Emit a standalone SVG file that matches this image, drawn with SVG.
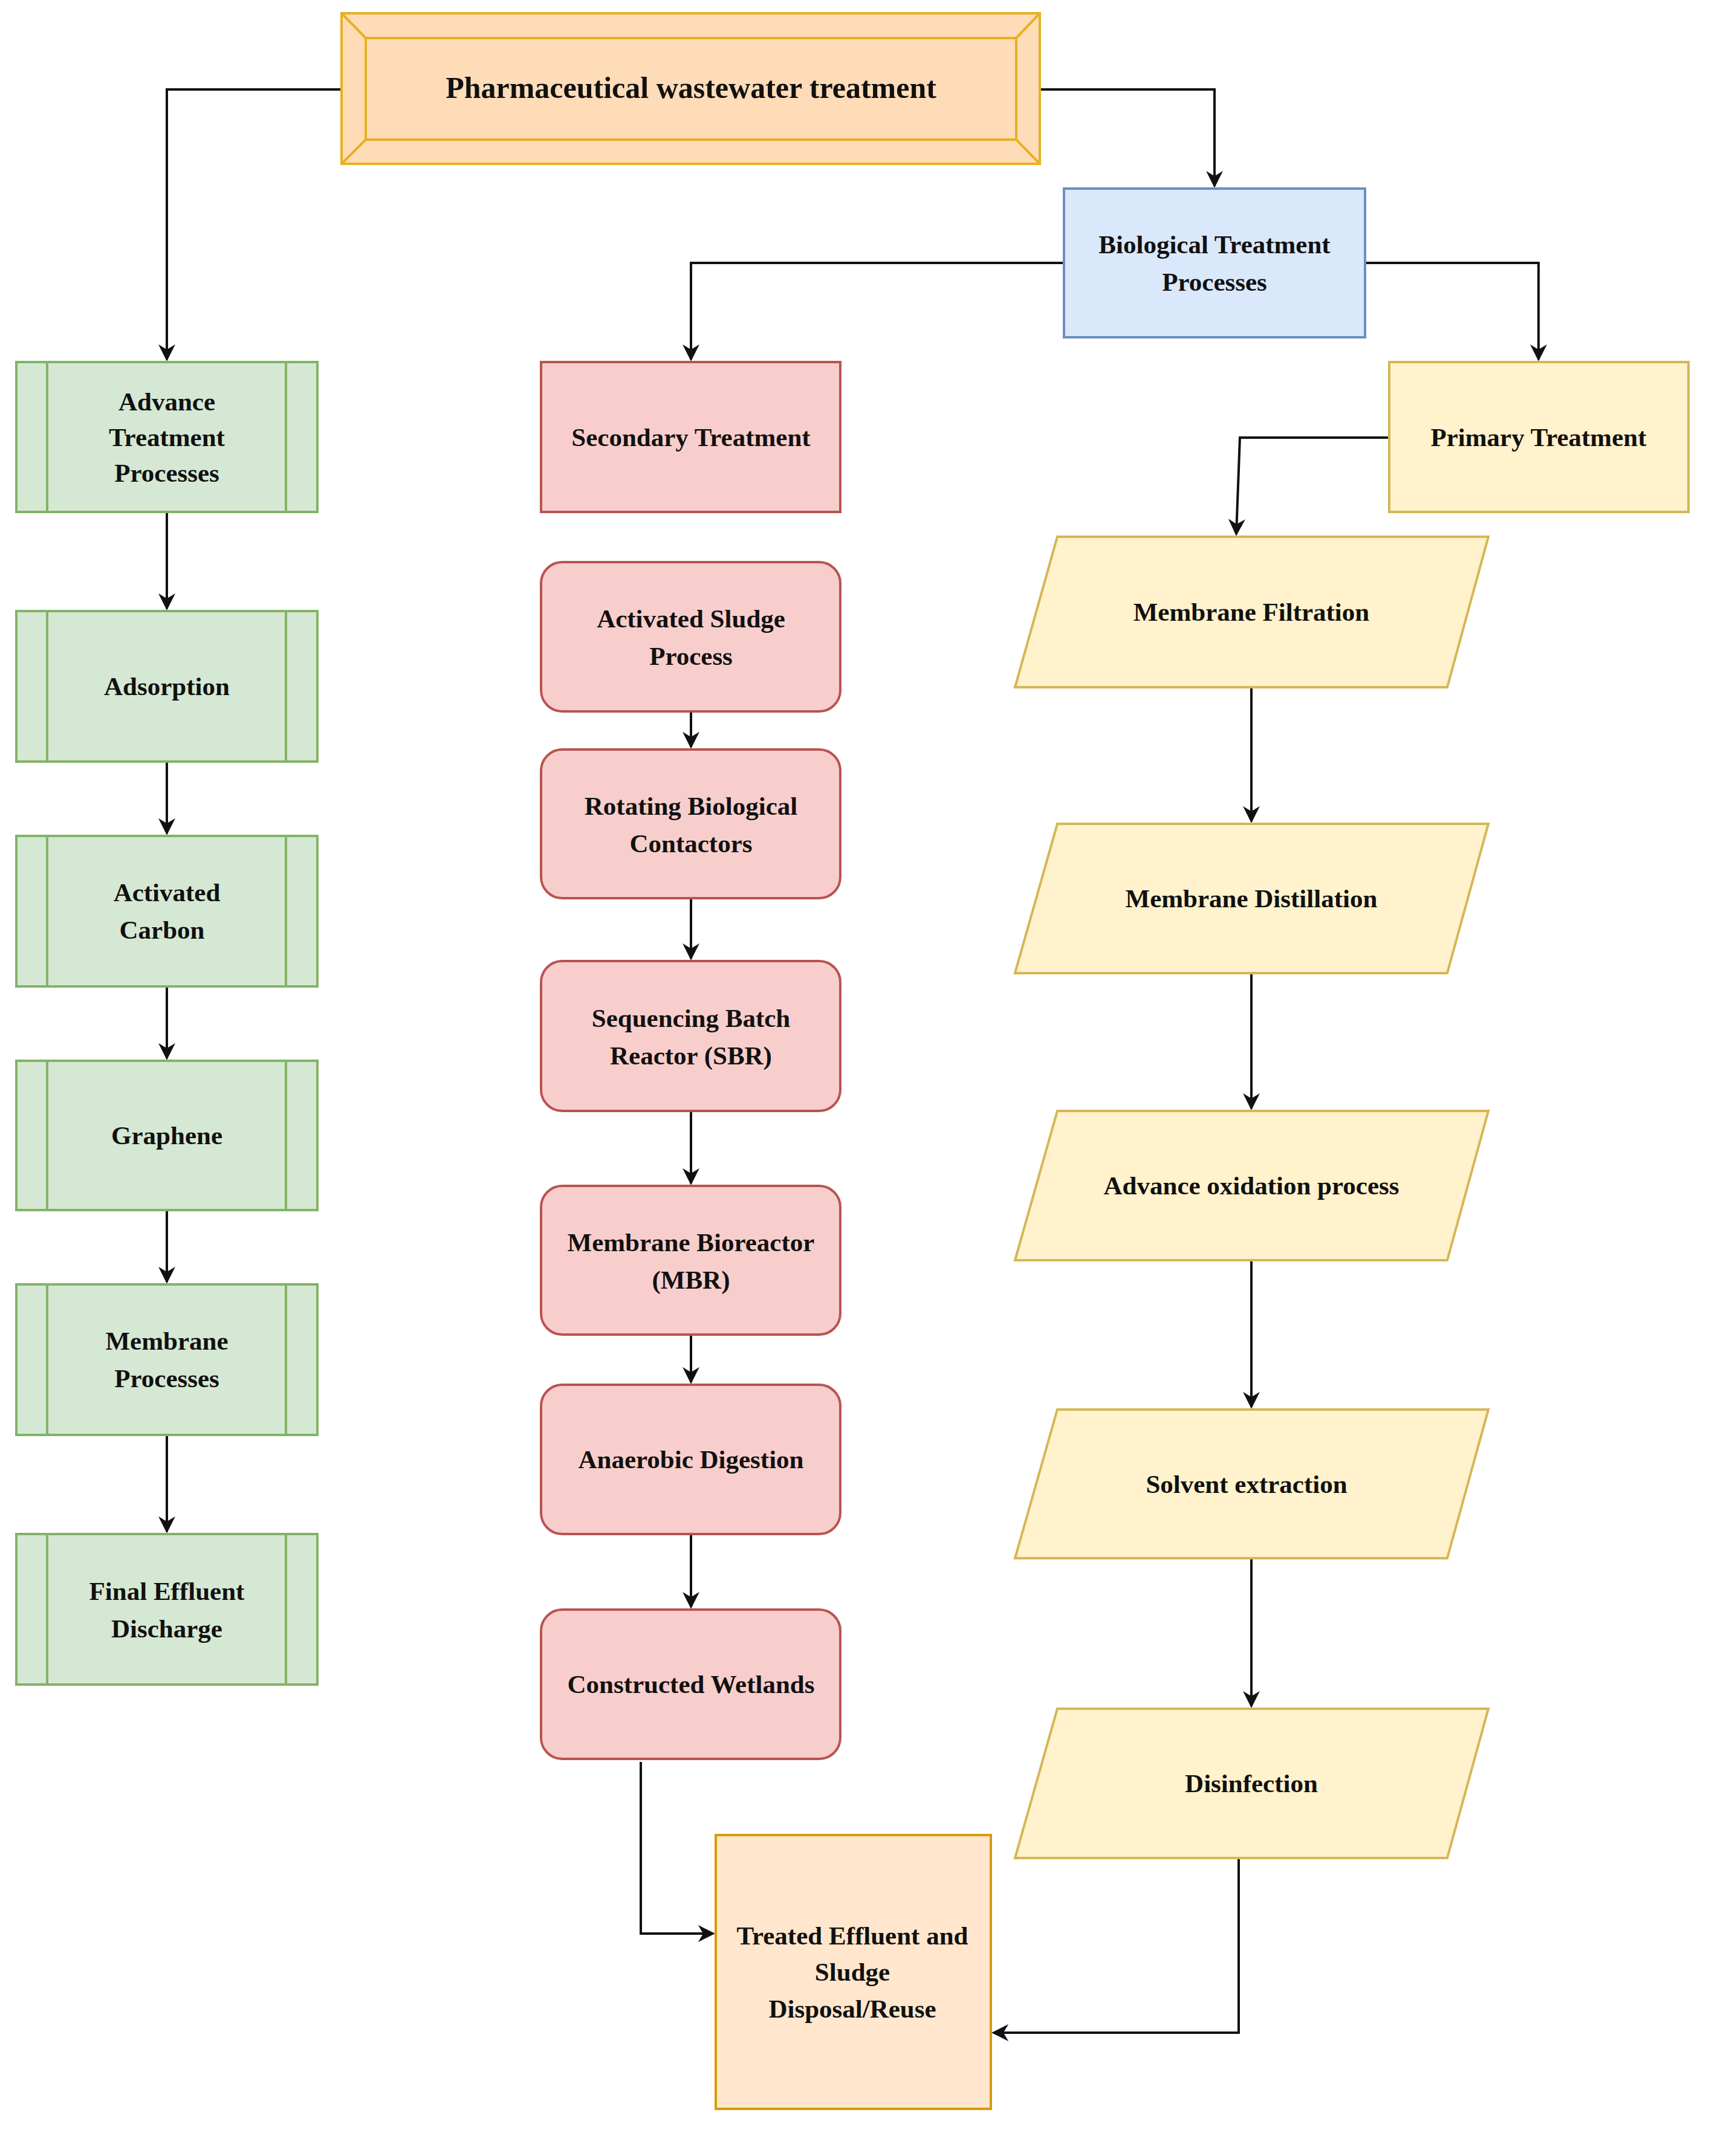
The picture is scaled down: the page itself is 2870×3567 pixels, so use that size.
<svg xmlns="http://www.w3.org/2000/svg" width="2870" height="3567" viewBox="0 0 2870 3567">
<defs>
<style>
text{font-family:"Liberation Serif","Times New Roman",serif;font-weight:bold;font-size:43px;fill:#111;text-anchor:middle;dominant-baseline:central}
.g{fill:#d5e8d4;stroke:#82b366;stroke-width:4}
.r{fill:#f8cecc;stroke:#b85450;stroke-width:4}
.y{fill:#fff2cc;stroke:#d6b656;stroke-width:4}
.b{fill:#dae8fc;stroke:#6c8ebf;stroke-width:4}
.o{fill:#ffe6cc;stroke:#d79b00;stroke-width:4}
.t{fill:#ffdcb8;stroke:#e8b020;stroke-width:4}
.c{fill:none;stroke:#111;stroke-width:4;marker-end:url(#a)}
</style>
<marker id="a" viewBox="0 0 10 10" refX="9" refY="5" markerWidth="7" markerHeight="7" markerUnits="strokeWidth" orient="auto"><path d="M0,0 L10,5 L0,10 L3,5 z" fill="#111"/></marker>
</defs>
<rect width="2870" height="3567" fill="#fff"/>
<g id="connectors">
<path class="c" d="M565,148 H276 V595"/>
<path class="c" d="M1720,148 H2009 V308"/>
<path class="c" d="M1760,435 H1143 V595"/>
<path class="c" d="M2258,435 H2545 V595"/>
<path class="c" d="M2298,724 H2051 L2045,884"/>
<path class="c" d="M276,847 V1007"/>
<path class="c" d="M276,1260 V1379"/>
<path class="c" d="M276,1632 V1751"/>
<path class="c" d="M276,2002 V2121"/>
<path class="c" d="M276,2374 V2534"/>
<path class="c" d="M1143,1177 V1236"/>
<path class="c" d="M1143,1486 V1586"/>
<path class="c" d="M1143,1838 V1958"/>
<path class="c" d="M1143,2208 V2287"/>
<path class="c" d="M1143,2538 V2659"/>
<path class="c" d="M2070,1137 V1359"/>
<path class="c" d="M2070,1610 V1834"/>
<path class="c" d="M2070,2085 V2328"/>
<path class="c" d="M2070,2578 V2823"/>
<path class="c" d="M1060,2915 L1060,3199 H1180"/>
<path class="c" d="M2049,3074 V3363 H1643"/>
</g>
<g id="top">
<rect class="t" x="565" y="22" width="1155" height="249"/>
<rect class="t" x="605" y="63" width="1076" height="168"/>
<path d="M565,22 L605,63 M1720,22 L1681,63 M565,271 L605,231 M1720,271 L1681,231" stroke="#e8b020" stroke-width="4"/>
<text x="1143" y="145" style="font-size:50px">Pharmaceutical wastewater treatment</text>
</g>
<g id="bio"><rect class="b" x="1760" y="312" width="498" height="246"/><text x="2009" y="404">Biological Treatment</text><text x="2009" y="466">Processes</text></g>
<g id="adv"><rect class="g" x="27" y="599" width="498" height="248"/><path d="M78,599 V847 M473,599 V847" stroke="#82b366" stroke-width="4"/><text x="276" y="664">Advance</text><text x="276" y="723">Treatment</text><text x="276" y="782">Processes</text></g>
<g id="ads"><rect class="g" x="27" y="1011" width="498" height="249"/><path d="M78,1011 V1260 M473,1011 V1260" stroke="#82b366" stroke-width="4"/><text x="276" y="1135">Adsorption</text></g>
<g id="ac"><rect class="g" x="27" y="1383" width="498" height="249"/><path d="M78,1383 V1632 M473,1383 V1632" stroke="#82b366" stroke-width="4"/><text x="276" y="1476">Activated</text><text x="268" y="1538">Carbon</text></g>
<g id="gr"><rect class="g" x="27" y="1755" width="498" height="247"/><path d="M78,1755 V2002 M473,1755 V2002" stroke="#82b366" stroke-width="4"/><text x="276" y="1878">Graphene</text></g>
<g id="mp"><rect class="g" x="27" y="2125" width="498" height="249"/><path d="M78,2125 V2374 M473,2125 V2374" stroke="#82b366" stroke-width="4"/><text x="276" y="2218">Membrane</text><text x="276" y="2280">Processes</text></g>
<g id="fe"><rect class="g" x="27" y="2538" width="498" height="249"/><path d="M78,2538 V2787 M473,2538 V2787" stroke="#82b366" stroke-width="4"/><text x="276" y="2632">Final Effluent</text><text x="276" y="2694">Discharge</text></g>
<g id="sec"><rect class="r" x="895" y="599" width="495" height="248"/><text x="1143" y="723">Secondary Treatment</text></g>
<g id="asp"><rect class="r" x="895" y="930" width="495" height="247" rx="35"/><text x="1143" y="1023">Activated Sludge</text><text x="1143" y="1085">Process</text></g>
<g id="rbc"><rect class="r" x="895" y="1240" width="495" height="246" rx="35"/><text x="1143" y="1333">Rotating Biological</text><text x="1143" y="1395">Contactors</text></g>
<g id="sbr"><rect class="r" x="895" y="1590" width="495" height="248" rx="35"/><text x="1143" y="1684">Sequencing Batch</text><text x="1143" y="1746">Reactor (SBR)</text></g>
<g id="mbr"><rect class="r" x="895" y="1962" width="495" height="246" rx="35"/><text x="1143" y="2055">Membrane Bioreactor</text><text x="1143" y="2117">(MBR)</text></g>
<g id="ad"><rect class="r" x="895" y="2291" width="495" height="247" rx="35"/><text x="1143" y="2414">Anaerobic Digestion</text></g>
<g id="cw"><rect class="r" x="895" y="2663" width="495" height="247" rx="35"/><text x="1143" y="2786">Constructed Wetlands</text></g>
<g id="pri"><rect class="y" x="2298" y="599" width="495" height="248"/><text x="2545" y="723">Primary Treatment</text></g>
<g id="mf"><polygon class="y" points="1749,888 2462,888 2394,1137 1679,1137"/><text x="2070" y="1012">Membrane Filtration</text></g>
<g id="md"><polygon class="y" points="1749,1363 2462,1363 2394,1610 1679,1610"/><text x="2070" y="1486">Membrane Distillation</text></g>
<g id="aop"><polygon class="y" points="1749,1838 2462,1838 2394,2085 1679,2085"/><text x="2070" y="1961">Advance oxidation process</text></g>
<g id="se"><polygon class="y" points="1749,2332 2462,2332 2394,2578 1679,2578"/><text x="2062" y="2455">Solvent extraction</text></g>
<g id="dis"><polygon class="y" points="1749,2827 2462,2827 2394,3074 1679,3074"/><text x="2070" y="2950">Disinfection</text></g>
<g id="tr"><rect class="o" x="1184" y="3036" width="455" height="453"/><text x="1410" y="3202">Treated Effluent and</text><text x="1410" y="3262">Sludge</text><text x="1410" y="3323">Disposal/Reuse</text></g>
</svg>
